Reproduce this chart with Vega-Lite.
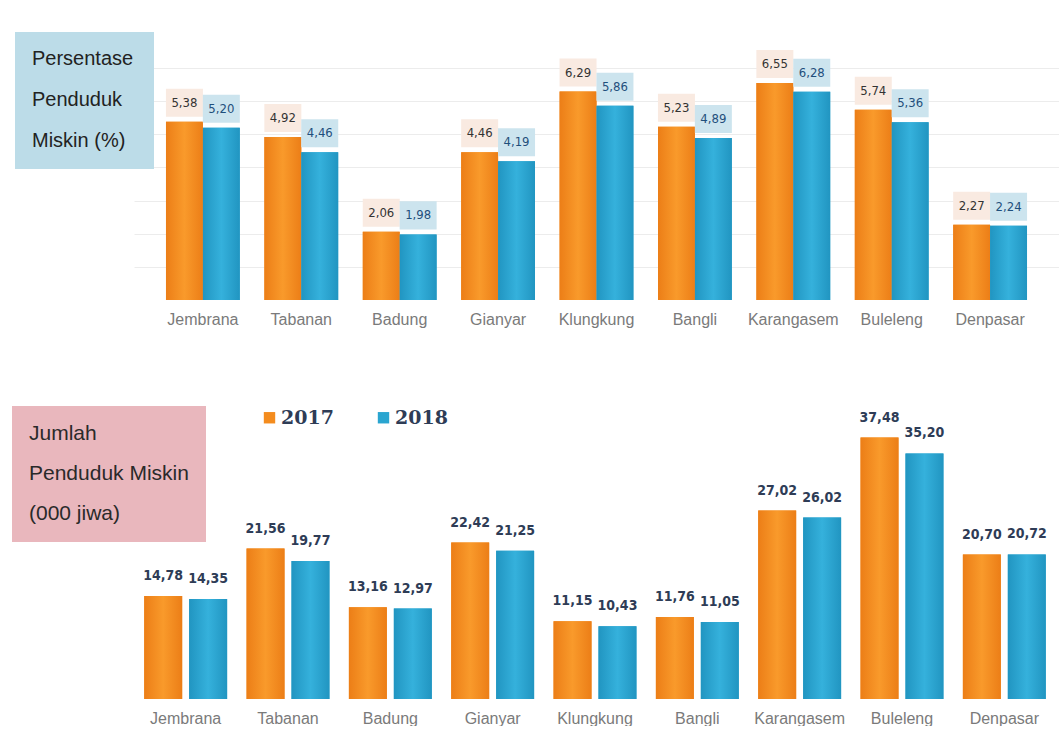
{
  "$schema": "https://vega.github.io/schema/vega-lite/v6.json",
  "padding": {"left": 12, "top": 32, "right": 0, "bottom": 0},
  "background": "white",
  "spacing": 79,
  "datasets": {
    "d": [
      {"kab": "Jembrana", "year": "2017", "pct": 5.38, "jml": 14.78},
      {"kab": "Jembrana", "year": "2018", "pct": 5.20, "jml": 14.35},
      {"kab": "Tabanan", "year": "2017", "pct": 4.92, "jml": 21.56},
      {"kab": "Tabanan", "year": "2018", "pct": 4.46, "jml": 19.77},
      {"kab": "Badung", "year": "2017", "pct": 2.06, "jml": 13.16},
      {"kab": "Badung", "year": "2018", "pct": 1.98, "jml": 12.97},
      {"kab": "Gianyar", "year": "2017", "pct": 4.46, "jml": 22.42},
      {"kab": "Gianyar", "year": "2018", "pct": 4.19, "jml": 21.25},
      {"kab": "Klungkung", "year": "2017", "pct": 6.29, "jml": 11.15},
      {"kab": "Klungkung", "year": "2018", "pct": 5.86, "jml": 10.43},
      {"kab": "Bangli", "year": "2017", "pct": 5.23, "jml": 11.76},
      {"kab": "Bangli", "year": "2018", "pct": 4.89, "jml": 11.05},
      {"kab": "Karangasem", "year": "2017", "pct": 6.55, "jml": 27.02},
      {"kab": "Karangasem", "year": "2018", "pct": 6.28, "jml": 26.02},
      {"kab": "Buleleng", "year": "2017", "pct": 5.74, "jml": 37.48},
      {"kab": "Buleleng", "year": "2018", "pct": 5.36, "jml": 35.20},
      {"kab": "Denpasar", "year": "2017", "pct": 2.27, "jml": 20.70},
      {"kab": "Denpasar", "year": "2018", "pct": 2.24, "jml": 20.72}
    ]
  },
  "config": {
    "view": {"stroke": null},
    "locale": {"number": {"decimal": ",", "thousands": ".", "grouping": [3], "currency": ["", ""]}}
  },
  "resolve": {
    "scale": {"shape": "independent", "fill": "independent", "color": "independent", "xOffset": "independent"},
    "legend": {"shape": "independent", "color": "independent", "fill": "independent"}
  },
  "vconcat": [
    {
      "width": 925,
      "height": 232,
      "data": {"name": "d"},
      "encoding": {
        "x": {
          "field": "kab", "type": "nominal", "sort": null,
          "scale": {"paddingInner": 0.25, "paddingOuter": 0.325},
          "axis": {"title": null, "domain": false, "ticks": false, "labelAngle": 0, "labelFont": "Liberation Sans", "labelFontSize": 16, "labelColor": "#7a7a7a", "labelPadding": 11}
        },
        "xOffset": {"field": "year", "type": "nominal", "scale": {"domain": ["2017", "2018"], "paddingInner": 0}},
        "y": {
          "field": "pct", "type": "quantitative",
          "scale": {"domain": [0, 7], "nice": false},
          "axis": {"title": null, "domain": false, "ticks": false, "labels": false, "grid": true, "gridColor": "#ececec", "values": [1, 2, 3, 4, 5, 6, 7]}
        }
      },
      "layer": [
        {
          "mark": {"type": "bar"},
          "encoding": {
            "color": {"field": "year", "type": "nominal", "scale": {"domain": ["2017", "2018"], "range": ["#f48c1e", "#2aa5d0"]}, "legend": null}
          }
        },
        {
          "transform": [{"filter": "datum.year === '2017'"}],
          "mark": {"type": "bar", "color": {"gradient": "linear", "x1": 0, "x2": 1, "y1": 0, "y2": 0, "stops": [{"offset": 0, "color": "#ec7e17"}, {"offset": 0.5, "color": "#f99a2b"}, {"offset": 1, "color": "#ec7e17"}]}}
        },
        {
          "transform": [{"filter": "datum.year === '2018'"}],
          "mark": {"type": "bar", "color": {"gradient": "linear", "x1": 0, "x2": 1, "y1": 0, "y2": 0, "stops": [{"offset": 0, "color": "#2195c1"}, {"offset": 0.5, "color": "#35b1dc"}, {"offset": 1, "color": "#2195c1"}]}}
        },
        {
          "mark": {"type": "point", "shape": "M-1,-0.757L1,-0.757L1,0.757L-1,0.757Z", "size": 1369, "filled": true, "opacity": 1, "strokeWidth": 0, "yOffset": -19},
          "encoding": {
            "fill": {"field": "year", "type": "nominal", "scale": {"domain": ["2017", "2018"], "range": ["#f9eae1", "#cce4ee"]}, "legend": null}
          }
        },
        {
          "mark": {"type": "text", "yOffset": -19, "baseline": "middle", "font": "DejaVu Sans Condensed, Roboto, sans-serif", "fontSize": 13},
          "encoding": {
            "text": {"field": "pct", "type": "quantitative", "format": ".2f"},
            "color": {"condition": {"test": "datum.year === '2018'", "value": "#1f4f7c"}, "value": "#333333"}
          }
        },
        {
          "mark": {"type": "point", "opacity": 0},
          "encoding": {
            "shape": {
              "datum": "Persentase",
              "legend": {
                "orient": "none", "legendX": -119, "legendY": -36,
                "title": ["Persentase", "Penduduk", "Miskin (%)"],
                "titleFont": "Liberation Sans", "titleFontSize": 20, "titleFontWeight": "normal", "titleColor": "#222222", "titleLineHeight": 41, "titlePadding": 0,
                "fillColor": "#bcdce8", "padding": 17,
                "symbolSize": 0, "symbolStrokeWidth": 0, "symbolOpacity": 0,
                "labelExpr": "'____________________________________________________________________________________________________________________________________________________________________________'",
                "labelFont": "DejaVu Sans Mono", "labelOpacity": 0, "labelFontSize": 1, "labelLimit": 400, "labelOffset": 0
              }
            }
          }
        }
      ]
    },
    {
      "width": 922,
      "height": 279,
      "data": {"name": "d"},
      "encoding": {
        "x": {
          "field": "kab", "type": "nominal", "sort": null,
          "scale": {"paddingInner": 0.19, "paddingOuter": 0.1},
          "axis": {"title": null, "domain": false, "ticks": false, "labelAngle": 0, "labelFont": "Liberation Sans", "labelFontSize": 16, "labelColor": "#7a7a7a", "labelPadding": 11}
        },
        "xOffset": {"field": "year", "type": "nominal", "scale": {"domain": ["2017", "2018"], "paddingInner": 0.156}},
        "y": {
          "field": "jml", "type": "quantitative",
          "scale": {"domain": [0, 40], "nice": false},
          "axis": null
        }
      },
      "layer": [
        {
          "mark": {"type": "bar"},
          "encoding": {
            "color": {
              "field": "year", "type": "nominal",
              "scale": {"domain": ["2017", "2018"], "range": ["#f48c1e", "#2aa5d0"]},
              "legend": {
                "orient": "none", "legendX": 126, "legendY": -12, "direction": "horizontal", "title": null,
                "symbolType": "square", "symbolSize": 130, "symbolStrokeWidth": 0,
                "labelFont": "DejaVu Serif", "labelFontSize": 19, "labelFontWeight": "bold", "labelColor": "#2e3c56",
                "labelOffset": 2, "columnPadding": 40, "padding": 0
              }
            }
          }
        },
        {
          "transform": [{"filter": "datum.year === '2017'"}],
          "mark": {"type": "bar", "color": {"gradient": "linear", "x1": 0, "x2": 1, "y1": 0, "y2": 0, "stops": [{"offset": 0, "color": "#ec7e17"}, {"offset": 0.5, "color": "#f99a2b"}, {"offset": 1, "color": "#ec7e17"}]}}
        },
        {
          "transform": [{"filter": "datum.year === '2018'"}],
          "mark": {"type": "bar", "color": {"gradient": "linear", "x1": 0, "x2": 1, "y1": 0, "y2": 0, "stops": [{"offset": 0, "color": "#2195c1"}, {"offset": 0.5, "color": "#35b1dc"}, {"offset": 1, "color": "#2195c1"}]}}
        },
        {
          "mark": {"type": "text", "yOffset": -20, "baseline": "middle", "font": "DejaVu Sans Condensed, Roboto, sans-serif", "fontSize": 14, "fontWeight": "bold", "color": "#2e3c56"},
          "encoding": {
            "text": {"field": "jml", "type": "quantitative", "format": ".2f"}
          }
        },
        {
          "mark": {"type": "point", "opacity": 0},
          "encoding": {
            "shape": {
              "datum": "Jumlah",
              "legend": {
                "orient": "none", "legendX": -122, "legendY": -14,
                "title": ["Jumlah", "Penduduk Miskin", "(000 jiwa)"],
                "titleFont": "Liberation Sans", "titleFontSize": 21, "titleFontWeight": "normal", "titleColor": "#2a2a2a", "titleLineHeight": 40, "titlePadding": 0,
                "fillColor": "#e9b7bd", "padding": 17,
                "symbolSize": 0, "symbolStrokeWidth": 0, "symbolOpacity": 0,
                "labelExpr": "''",
                "labelFont": "DejaVu Sans Mono", "labelOpacity": 0, "labelFontSize": 1, "labelLimit": 400, "labelOffset": 0
              }
            }
          }
        }
      ]
    }
  ]
}
